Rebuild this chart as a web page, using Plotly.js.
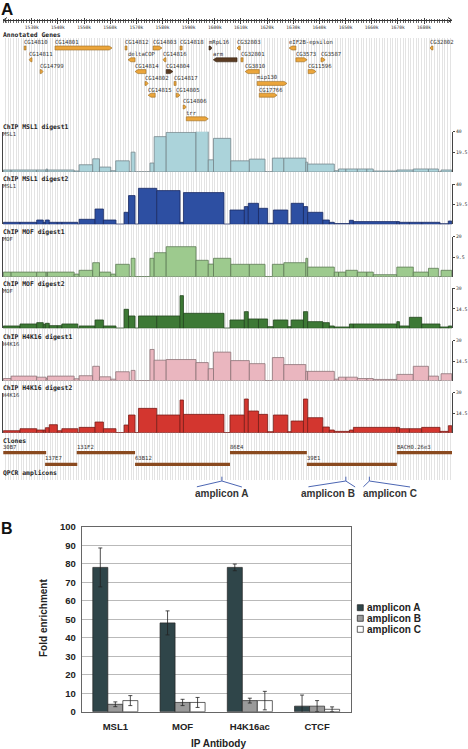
<!DOCTYPE html>
<html><head><meta charset="utf-8">
<script src="https://cdn.plot.ly/plotly-3.0.1.min.js"></script>
<style>html,body{margin:0;padding:0;background:#fff;}#chart{width:468px;height:749px;}</style>
</head><body><div id="chart"></div>
<script>
// ================= DATA =================
const rulerTicks = [1530,1540,1550,1560,1570,1580,1590,1600,1610,1620,1630,1640,1650,1660,1670,1680];
const rulerLabels = ['1530k','1540k','1550k','1560k','1570k','1580k','1590k','1600k','1610k','1620k','1630k','1640k','1650k','1660k','1670k','1680k'];

const geneNames = ['CG14810','CG14801','CG14812','CG14803','CG14818','mRpL16','CG32803','eIF2B-epsilon','CG32802',
  'CG14811','deltaCOP','CG14816','arm','CG32801','CG3573','CG3587',
  'CG14799','CG14814','CG14804','CG3810','CG11596',
  'CG14802','CG14817','mip130',
  'CG14815','CG14805','CG17766',
  'CG14806',
  'trr'];
const geneStart = [1527.1,1538.9,1565.7,1576.4,1586.7,1597.8,1608.5,1628.4,1682.3,
  1529.0,1566.8,1580.2,1599.4,1610.0,1631.0,1640.6,
  1533.2,1569.5,1581.4,1611.6,1635.7,
  1573.3,1584.4,1616.2,
  1574.5,1585.2,1617.0,
  1587.9,
  1589.1];
const geneEnd = [1527.8,1560.7,1566.4,1579.8,1587.5,1598.9,1609.7,1631.0,1683.4,
  1530.1,1569.5,1581.3,1608.5,1610.8,1635.3,1642.2,
  1534.3,1573.7,1584.0,1617.0,1638.7,
  1574.5,1585.2,1627.6,
  1577.2,1586.7,1623.8,
  1589.1,
  1597.5];
const geneStrand = [0,1,0,1,0,1,-1,-1,-1,
  -1,-1,-1,-1,0,1,1,
  1,-1,1,-1,1,
  1,0,1,
  -1,1,1,
  1,
  1];
const geneRow = [1,1,1,1,1,1,1,1,1, 2,2,2,2,2,2,2, 3,3,3,3,3, 4,4,4, 5,5,5, 6, 7];
const darkGenes = ['mRpL16','arm','CG14804'];

const cloneNames = ['30B7','131F2','86E4','BACH0.26e3','137E7','63B12','39E1'];
const cloneStart = [1519.1,1547.2,1605.8,1669.6,1535.1,1569.5,1635.2];
const cloneEnd   = [1535.5,1569.5,1635.2,1690.8,1547.4,1605.8,1669.6];
const cloneRow   = [1,1,1,1,2,2,2];

const trackNames = ['ChIP MSL1 digest1','ChIP MSL1 digest2','ChIP MOF digest1','ChIP MOF digest2','ChIP H4K16 digest1','ChIP H4K16 digest2'];
const trackSubs  = ['MSL1','MSL1','MOF','MOF','H4K16','H4K16'];
const trackMax   = [40,40,20,30,30,30];
const trackMid   = [19.5,19.5,9.5,14.5,14.5,14.5];

const digest1Edges = [1519.15,1522.1,1531.9,1535.5,1536.0,1546.2,1548.1,1553.3,1555.9,1560.2,1562.1,1567.3,1568.0,1569.5,1575.2,1576.8,1581.4,1592.8,1597.5,1599.5,1606.1,1613.2,1619.2,1622.0,1626.4,1634.8,1635.5,1645.7,1647.3,1650.1,1654.5,1658.1,1660.6,1669.6,1675.9,1681.7,1685.5,1686.5,1690.6];
const digest2Edges = [1519.15,1525.5,1531.9,1534.4,1535.2,1536.7,1539.8,1541.5,1547.6,1548.1,1554.2,1557.4,1562.2,1565.3,1567.0,1569.5,1570.8,1577.8,1586.7,1588.0,1603.5,1605.8,1611.3,1612.8,1616.7,1620.2,1622.4,1627.9,1629.2,1633.9,1635.5,1641.3,1643.8,1645.7,1651.5,1653.0,1669.6,1670.6,1674.4,1679.1,1686.1,1689.3,1690.6];

const msl1Digest1 = [2,2,2,3,2,1,7.2,13.1,4.9,1.3,11.1,0,19.7,0,8.9,35.1,39.3,41,12.1,33.4,11.1,12.8,0,13.8,13.8,9.8,7.9,1.3,3,3,3,3,1,2,3,3,0,2];
const mofDigest1  = [2.3,2.3,2.3,2.3,2.3,1.3,3.2,7,2.3,1.3,6.2,0,9.2,0,9.2,12,15,8.2,6.3,9.2,6.2,6.2,0,6.2,7,9.2,4.8,2.3,2.3,3.2,2.3,2.3,1,4.8,2.3,4.2,0,3.2];
const h4k16Digest1= [1.5,3.3,2.5,1.5,3.3,1.3,3.6,10.7,2.8,1,6.6,0,7.6,0,23.4,15.3,15.8,13.5,8.9,21.4,15,12.7,0,17.3,12,6.9,6.9,1,2.5,2.5,1.5,1.5,0.8,4.6,10.7,3.3,0,5.1];

const msl1Digest2 = [2,2,4.3,2,4.3,2,2,2,0,5,15.3,4.3,0,12,28.7,0,36,33.7,2,31.7,0,14.3,17.7,21,16,1,14.3,0.5,21,17.7,12,4.3,2,0.7,4,2.7,2.7,2,2,2,0.5,3.3];
const mofDigest2  = [1.75,3.25,4.25,3,3.75,2,2,3.25,0,1.75,6.25,1.75,0,14.25,9.25,0,9.25,9.25,24.5,11.25,0,6.25,12.5,7,7,1.25,6.25,1.25,6.25,12.5,5,4.25,1.75,1,3.25,3.25,5,1.75,8.25,3.25,1,1.75];
const h4k16Digest2= [1.5,3,2,2,3.75,6,1.5,3,0,4,8,3,0,5.75,13.25,0,18.25,13.25,24.5,13.75,0,13.25,25.25,16.25,13.75,0.75,13.25,0.75,8.75,25.25,11.25,4.25,2,1,2,4,4,3,3,4,1,5.25];

const ampliconNames = ['amplicon A','amplicon B','amplicon C'];
const ampliconPos   = [1602.7,1650.1,1659.1];

const ipAntibodies = ['MSL1','MOF','H4K16ac','CTCF'];
const ampAValues = [78,48,78,3];    const ampAErr = [10.5,6.5,1.8,6];
const ampBValues = [4,5,6,3];       const ampBErr = [1.3,1.7,1.3,3];
const ampCValues = [6,5,6,1.3];     const ampCErr = [2.7,2.7,5,1.3];

// ================= STYLE / LAYOUT =================
const W = 468, H = 749;
const px = p => p / W;
const py = p => 1 - p / H;
const mono = 'DejaVu Sans Mono';
const sans = 'Liberation Sans';
const XRANGE = [1519.0, 1690.7];
const GRID = '#e3e3e3';

const trackSeries = [
  {edges: digest1Edges, vals: msl1Digest1, fill:'#abd3da', line:'#76878c'},
  {edges: digest2Edges, vals: msl1Digest2, fill:'#2d4fa2', line:'#1a2b63'},
  {edges: digest1Edges, vals: mofDigest1,  fill:'#9dca8e', line:'#5e7b56'},
  {edges: digest2Edges, vals: mofDigest2,  fill:'#3d7935', line:'#23461e'},
  {edges: digest1Edges, vals: h4k16Digest1,fill:'#eab6bf', line:'#8d7377'},
  {edges: digest2Edges, vals: h4k16Digest2,fill:'#d3362f', line:'#7a1e19'}
];
const trackPx = [[131.7,172],[184.3,224.3],[236.7,276.7],[288.3,328.3],[340.7,380.5],[392.7,432.7]];
const trackTitleY = [127,179,231.7,284,336.7,388.3];

const geneRowY = r => 48 + (r - 1) * 11.8;
const cloneRowY = r => 452.7 + (r - 1) * 11.6;
const GENE_H = 4, ARROW_KB = 1.1;

const traces = [];
const annotations = [];
const shapes = [];

// ---- gene glyphs ----
function genePolys(dark) {
  const xs = [], ys = [];
  geneNames.forEach((n, i) => {
    if (darkGenes.includes(n) !== dark) return;
    const s = geneStart[i], e = geneEnd[i], y = geneRowY(geneRow[i]), h = GENE_H / 2;
    const a = Math.min(ARROW_KB, (e - s) * 0.6);
    if (geneStrand[i] > 0) { xs.push(s, e - a, e, e - a, s, s, null); ys.push(y - h, y - h, y, y + h, y + h, y - h, null); }
    else if (geneStrand[i] < 0) { xs.push(e, s + a, s, s + a, e, e, null); ys.push(y - h, y - h, y, y + h, y + h, y - h, null); }
    else { xs.push(s, e, e, s, s, null); ys.push(y - h, y - h, y + h, y + h, y - h, null); }
  });
  return {type:'scatter', mode:'lines', x:xs, y:ys, fill:'toself',
    fillcolor: dark ? '#5a3b22' : '#eba53b', line:{color: dark ? '#33200f' : '#9b6a1e', width:0.6},
    xaxis:'x', yaxis:'y', hoverinfo:'skip', showlegend:false};
}
traces.push(genePolys(false), genePolys(true));
geneNames.forEach((n, i) => annotations.push({x: geneStart[i], y: geneRowY(geneRow[i]) - 5.6, xref:'x', yref:'y',
  text:n, showarrow:false, xanchor:'left', yanchor:'middle', xshift:-2, font:{family:mono, size:5.6, color:'#333'}}));

// ---- clones ----
traces.push({type:'bar', orientation:'h', y: cloneRow.map(cloneRowY), base: cloneStart,
  x: cloneEnd.map((e, i) => e - cloneStart[i]), width: 3.3, xaxis:'x', yaxis:'y',
  marker:{color:'#8a4a1f', line:{width:0}}, hoverinfo:'skip', showlegend:false});
cloneNames.forEach((n, i) => annotations.push({x: cloneStart[i], y: cloneRowY(cloneRow[i]) - 5.8, xref:'x', yref:'y',
  text:n, showarrow:false, xanchor:'left', yanchor:'middle', xshift:-2, font:{family:mono, size:5.6, color:'#333'}}));

// invisible trace so the upper ruler tick axis gets a subplot
traces.push({type:'scatter', mode:'markers', x:[], y:[], xaxis:'x3', yaxis:'y', hoverinfo:'skip', showlegend:false});

// ---- tracks ----
const layout = {
  width: W, height: H, margin:{l:0, r:0, t:0, b:0},
  paper_bgcolor:'#fff', plot_bgcolor:'rgba(0,0,0,0)',
  barmode:'group', bargap:0.33, bargroupgap:0, showlegend:false,
  xaxis: {domain:[px(3), px(452)], range: XRANGE, anchor:'free', position: py(20), side:'bottom',
    showline:true, linecolor:'#333', linewidth:1, ticks:'outside', ticklen:2.5, tickcolor:'#444',
    tickmode:'array', tickvals: rulerTicks, ticktext: rulerLabels, tickfont:{family:mono, size:4.6, color:'#333'},
    showgrid:true, gridcolor:GRID, gridwidth:1, zeroline:false, fixedrange:true,
    minor:{tickmode:'linear', tick0:1519, dtick:1, ticks:'outside', ticklen:1.5, tickcolor:'#666', showgrid:true, gridcolor:GRID, gridwidth:1}},
  xaxis3: {domain:[px(3), px(452)], range: XRANGE, anchor:'free', overlaying:'x', position: py(20), side:'top',
    showline:false, ticks:'outside', ticklen:2.5, tickcolor:'#444', tickmode:'array', tickvals: rulerTicks, showticklabels:false,
    showgrid:false, zeroline:false, fixedrange:true,
    minor:{tickmode:'linear', tick0:1519, dtick:1, ticks:'outside', ticklen:1.5, tickcolor:'#666', showgrid:false}},
  yaxis: {domain:[py(480), py(38)], range:[480, 38], visible:true, showgrid:false, showline:false, showticklabels:false, ticks:'', zeroline:false, fixedrange:true}
};

trackSeries.forEach((t, i) => {
  const xs = [], ws = [];
  for (let k = 0; k < t.vals.length; k++) { xs.push((t.edges[k] + t.edges[k + 1]) / 2); ws.push(t.edges[k + 1] - t.edges[k]); }
  const ya = 'y' + (i + 2);
  traces.push({type:'bar', x: xs, y: t.vals, width: ws, xaxis:'x', yaxis: ya, cliponaxis:false,
    marker:{color: t.fill, line:{color: t.line, width:0.8}}, hoverinfo:'skip', showlegend:false});
  layout['yaxis' + (i + 2)] = {domain:[py(trackPx[i][1]), py(trackPx[i][0])], range:[0, trackMax[i]], anchor:'x', side:'right',
    showline:true, linecolor:'#444', linewidth:1, mirror:true, ticks:'outside', ticklen:2, tickcolor:'#444',
    tickmode:'array', tickvals:[trackMid[i], trackMax[i]], ticktext:[String(trackMid[i]), String(trackMax[i])],
    tickfont:{family:mono, size:4.8, color:'#333'}, ticklabelstandoff:0, showgrid:false, zeroline:false, fixedrange:true};
  shapes.push({type:'line', xref:'paper', yref: ya, x0: px(3), x1: px(452), y0:0, y1:0, line:{color:'#999', width:1}, layer:'below'});
  annotations.push({x: px(3), y: py(trackTitleY[i]), xref:'paper', yref:'paper', text:'<b>' + trackNames[i] + '</b>', showarrow:false,
    xanchor:'left', yanchor:'middle', xshift:-2, font:{family:mono, size:6.4, color:'#222'}});
  annotations.push({x: px(3), y: py(trackTitleY[i] + 7), xref:'paper', yref:'paper', text: trackSubs[i], showarrow:false,
    xanchor:'left', yanchor:'middle', xshift:-2, font:{family:mono, size:5.4, color:'#333'}});
});

// section labels
[['Annotated Genes', 35], ['Clones', 441], ['QPCR amplicons', 473.3]].forEach(([t, y]) =>
  annotations.push({x: px(3), y: py(y), xref:'paper', yref:'paper', text:'<b>' + t + '</b>', showarrow:false,
    xanchor:'left', yanchor:'middle', xshift:-2, font:{family:mono, size:6.4, color:'#222'}}));

// ruler arrowheads
shapes.push({type:'path', xref:'paper', yref:'paper', path:`M${px(7)},${py(17.5)} L${px(3.5)},${py(20)} L${px(7)},${py(22.5)}`, line:{color:'#333', width:1}});
shapes.push({type:'path', xref:'paper', yref:'paper', path:`M${px(448)},${py(17.5)} L${px(451.5)},${py(20)} L${px(448)},${py(22.5)}`, line:{color:'#333', width:1}});

// amplicon brackets & labels
const ampBracket = [[-25, 20], [-37.4, 9.3], [-6, 40.7]];
const ampLabelShift = [0, -17.4, 20.7];
const ampBlue = '#4c66b3';
ampliconPos.forEach((p, i) => {
  shapes.push({type:'line', xref:'x', yref:'paper', x0:p, x1:p, y0:py(476.7), y1:py(481), line:{color:ampBlue, width:1}});
  shapes.push({type:'line', xref:'x', xsizemode:'pixel', xanchor:p, yref:'paper', x0:ampBracket[i][0], x1:0, y0:py(486.8), y1:py(481), line:{color:ampBlue, width:1}});
  shapes.push({type:'line', xref:'x', xsizemode:'pixel', xanchor:p, yref:'paper', x0:0, x1:ampBracket[i][1], y0:py(481), y1:py(487), line:{color:ampBlue, width:1}});
  annotations.push({x:p, y:py(493.5), xref:'x', yref:'paper', text:'<b>' + ampliconNames[i] + '</b>', showarrow:false,
    xanchor:'center', yanchor:'middle', xshift: ampLabelShift[i], font:{family:sans, size:10, color:'#333'}});
});

// panel letters
annotations.push({x: px(0), y: py(0), xref:'paper', yref:'paper', text:'<b>A</b>', showarrow:false, xanchor:'left', yanchor:'top', xshift:-1, yshift:2, font:{family:sans, size:17, color:'#111'}});
annotations.push({x: px(0), y: py(518), xref:'paper', yref:'paper', text:'<b>B</b>', showarrow:false, xanchor:'left', yanchor:'top', xshift:-1, font:{family:sans, size:16, color:'#111'}});

// ---- panel B ----
const ampSeries = [
  {name: ampliconNames[0], y: ampAValues, err: ampAErr, color:'#2f4549'},
  {name: ampliconNames[1], y: ampBValues, err: ampBErr, color:'#9a9a9a'},
  {name: ampliconNames[2], y: ampCValues, err: ampCErr, color:'#ffffff'}
];
ampSeries.forEach(s => traces.push({type:'bar', name: s.name, x: ipAntibodies, y: s.y, xaxis:'x2', yaxis:'y8',
  marker:{color: s.color, line:{color:'#222', width:0.7}},
  error_y:{type:'data', array: s.err, visible:true, color:'#222', thickness:0.8, width:2}, hoverinfo:'skip', showlegend:false}));

layout.xaxis2 = {domain:[px(81.7), px(350.7)], anchor:'y8', showline:true, mirror:true, linecolor:'#666', linewidth:1,
  ticks:'', tickfont:{family:sans, size:9.5, color:'#222', weight:'bold'}, ticklabelstandoff:6, fixedrange:true};
layout.yaxis8 = {domain:[py(711.7), py(526.7)], anchor:'x2', range:[0, 100], dtick:10, showline:true, mirror:true, linecolor:'#666', linewidth:1,
  showgrid:true, gridcolor:'#a8a8a8', gridwidth:0.8, zeroline:false, ticks:'',
  tickfont:{family:sans, size:9.5, color:'#222', weight:'bold'}, ticklabelstandoff:3, fixedrange:true};
annotations.push({x: px(43), y: py(618), xref:'paper', yref:'paper', text:'<b>Fold enrichment</b>', textangle:-90, showarrow:false,
  xanchor:'center', yanchor:'middle', font:{family:sans, size:10, color:'#222'}});
annotations.push({x: px(218), y: py(743), xref:'paper', yref:'paper', text:'<b>IP Antibody</b>', showarrow:false,
  xanchor:'center', yanchor:'middle', font:{family:sans, size:10, color:'#222'}});

// legend (keyed to the series colours)
const legendY = [607.7, 618.3, 629.3];
ampSeries.forEach((s, i) => {
  shapes.push({type:'rect', xref:'paper', yref:'paper', x0:px(357.3), x1:px(363.3), y0:py(legendY[i] + 3), y1:py(legendY[i] - 3),
    fillcolor: s.color, line:{color:'#222', width:0.7}});
  annotations.push({x: px(366.5), y: py(legendY[i]), xref:'paper', yref:'paper', text:'<b>' + s.name + '</b>', showarrow:false,
    xanchor:'left', yanchor:'middle', xshift:-2, font:{family:sans, size:10, color:'#222'}});
});

layout.annotations = annotations;
layout.shapes = shapes;

Plotly.newPlot('chart', traces, layout, {staticPlot:true, displayModeBar:false});
</script></body></html>
